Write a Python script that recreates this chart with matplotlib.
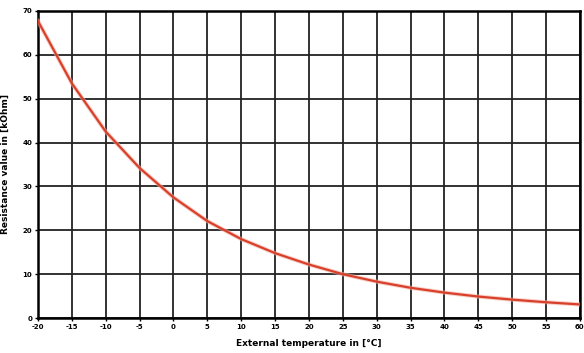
import matplotlib
matplotlib.use("Agg")
import matplotlib.pyplot as plt

plt.rcParams["axes.unicode_minus"] = False

temperature = [-20, -15, -10, -5, 0, 5, 10, 15, 20, 25, 30, 35, 40, 45, 50, 55, 60]
resistance = [67.7, 53.5, 42.5, 34.2, 27.5, 22.1, 18.0, 14.8, 12.2, 10.0, 8.3, 6.9, 5.8, 4.9, 4.2, 3.6, 3.1]

x_ticks = list(range(-20, 61, 5))
y_ticks = list(range(0, 71, 10))

fig = plt.figure(figsize=(5.84, 3.53), dpi=100)
ax = fig.add_axes([0.065, 0.099, 0.928, 0.870])

ax.plot(temperature, resistance, color="#f4b0a0", linewidth=3.0, alpha=0.6, zorder=3)
ax.plot(temperature, resistance, color="#d8402c", linewidth=1.6, zorder=4)

ax.set_xlim(-20, 60)
ax.set_ylim(0, 70)
ax.set_xticks(x_ticks)
ax.set_yticks(y_ticks)
ax.tick_params(labelsize=5, length=2, width=1, pad=2)
for lbl in ax.get_xticklabels() + ax.get_yticklabels():
    lbl.set_fontweight("bold")

ax.grid(True, color="#222222", linewidth=1.3, zorder=1)
for s in ax.spines.values():
    s.set_linewidth(1.8)
    s.set_color("black")

ax.set_xlabel("External temperature in [°C]", fontsize=6.5, fontweight="bold", labelpad=7)
ax.set_ylabel("Resistance value in [kOhm]", fontsize=6.5, fontweight="bold", labelpad=9)

fig.savefig("out.png", dpi=100)
